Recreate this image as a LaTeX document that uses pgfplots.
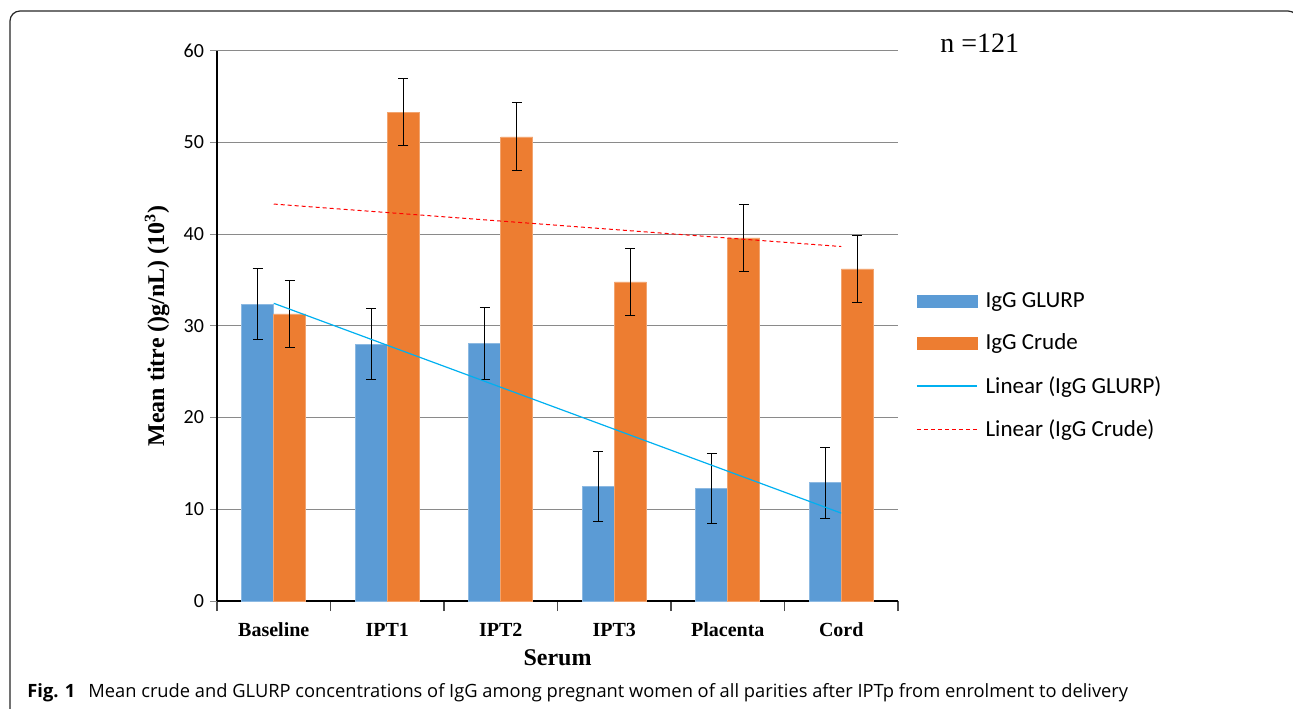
\documentclass[border=0pt]{standalone}
\usepackage{fontspec}
\setmainfont{Liberation Serif}
\newfontfamily\calibri{Carlito}
\newfontfamily\capfont{Open Sans}
\usepackage{pgfplots}
\pgfplotsset{compat=1.18}
\definecolor{glurp}{HTML}{5B9BD5}
\definecolor{crude}{HTML}{ED7D31}
\definecolor{tlblue}{HTML}{00B0F0}
\definecolor{gridc}{HTML}{8A8A8A}
\begin{document}
\begin{tikzpicture}
\path[use as bounding box] (0pt,0pt) rectangle (646.5pt,354pt);
\draw[line width=0.6pt, rounded corners=5pt, black!85] (5pt,-10pt) -- (5pt,348.5pt) -- (649pt,348.5pt) -- (649pt,-10pt);
\begin{axis}[
  at={(108.5pt,53.5pt)}, anchor=south west,
  scale only axis, width=340.5pt, height=275.15pt,
  xmin=-0.5, xmax=5.5, ymin=0, ymax=60,
  axis x line=bottom, axis y line=left,
  axis line style={-, line width=1pt, black},
  tick align=outside,
  major tick length=3.5pt, minor tick length=5pt,
  ytick={0,10,...,60},
  ymajorgrids, grid style={gridc, line width=0.5pt},
  y tick style={gridc, line width=0.5pt},
  xtick={0,...,5},
  xticklabels={Baseline,IPT1,IPT2,IPT3,Placenta,Cord},
  xtick style={draw=none},
  minor xtick={-0.5,0.5,...,5.5},
  minor x tick style={draw=black!70, line width=0.6pt},
  /pgf/number format/assume math mode=true,
  yticklabel style={font=\calibri\fontsize{10}{12}\selectfont, xshift=0.5pt},
  xticklabel style={font=\bfseries\fontsize{10}{12}\selectfont, yshift=-4pt},
  xlabel={\bfseries Serum},
  xlabel style={font=\fontsize{12}{14}\selectfont, at={(axis description cs:0.5,-0.1036)}, anchor=center},
  ylabel={\bfseries Mean titre ()g/nL) (10\textsuperscript{3})},
  ylabel style={font=\fontsize{12}{14}\selectfont, at={(axis description cs:-0.0881,0.5)}, anchor=center},
  legend style={at={(axis description cs:1.0264,0.4275)}, anchor=west, draw=none, fill=none,
    inner sep=0pt, row sep=7.8pt, font=\calibri\fontsize{11.5}{13}\selectfont,
    /tikz/every odd column/.append style={column sep=2pt}},
  legend cell align=left,
]
\addplot[ybar, bar width=16pt, bar shift=0pt, fill=glurp, draw=glurp!70!white, line width=0.3pt,
  legend image code/.code={\fill[glurp] (0pt,-3pt) rectangle (30pt,3pt);},
  error bars/y dir=both, error bars/y explicit,
  error bars/error bar style={black, line width=0.5pt},
  error bars/error mark options={black, line width=0.5pt, mark size=2.5pt, rotate=90}]
  coordinates {
  (-0.141,32.37) +- (0,3.85)
  (0.859,28.0) +- (0,3.85)
  (1.859,28.1) +- (0,3.9)
  (2.859,12.5) +- (0,3.85)
  (3.859,12.25) +- (0,3.85)
  (4.859,12.9) +- (0,3.85)
  };
\addlegendentry{IgG GLURP}
\addplot[ybar, bar width=16pt, bar shift=0pt, fill=crude, draw=crude!70!white, line width=0.3pt,
  legend image code/.code={\fill[crude] (0pt,-3pt) rectangle (30pt,3pt);},
  error bars/y dir=both, error bars/y explicit,
  error bars/error bar style={black, line width=0.5pt},
  error bars/error mark options={black, line width=0.5pt, mark size=2.5pt, rotate=90}]
  coordinates {
  (0.141,31.3) +- (0,3.7)
  (1.141,53.3) +- (0,3.65)
  (2.141,50.6) +- (0,3.7)
  (3.141,34.8) +- (0,3.65)
  (4.141,39.6) +- (0,3.65)
  (5.141,36.2) +- (0,3.65)
  };
\addlegendentry{IgG Crude}
\addplot[sharp plot, no marks, color=tlblue, line width=0.6pt,
  legend image code/.code={\draw[color=tlblue, line width=0.6pt] (0pt,0pt) -- (30pt,0pt);}]
  coordinates {(0,32.46) (5,9.58)};
\addlegendentry{Linear (IgG GLURP)}
\addplot[sharp plot, no marks, color=red, line width=0.5pt, dash pattern=on 2pt off 1.5pt,
  legend image code/.code={\draw[color=red, line width=0.5pt, dash pattern=on 2pt off 1.5pt] (0pt,0pt) -- (30pt,0pt);}]
  coordinates {(0,43.28) (5,38.65)};
\addlegendentry{Linear (IgG Crude)}
\end{axis}
\node[anchor=west, inner sep=0pt, font=\fontsize{14}{16}\selectfont] at (470pt,332.5pt) {n =121};
\node[anchor=base west, inner sep=0pt, font=\capfont\fontsize{9.15}{11}\selectfont] at (13.5pt,5.5pt) {\textbf{Fig. 1}\hspace{6.5pt}Mean crude and GLURP concentrations of IgG among pregnant women of all parities after IPTp from enrolment to delivery};
\end{tikzpicture}
\end{document}
